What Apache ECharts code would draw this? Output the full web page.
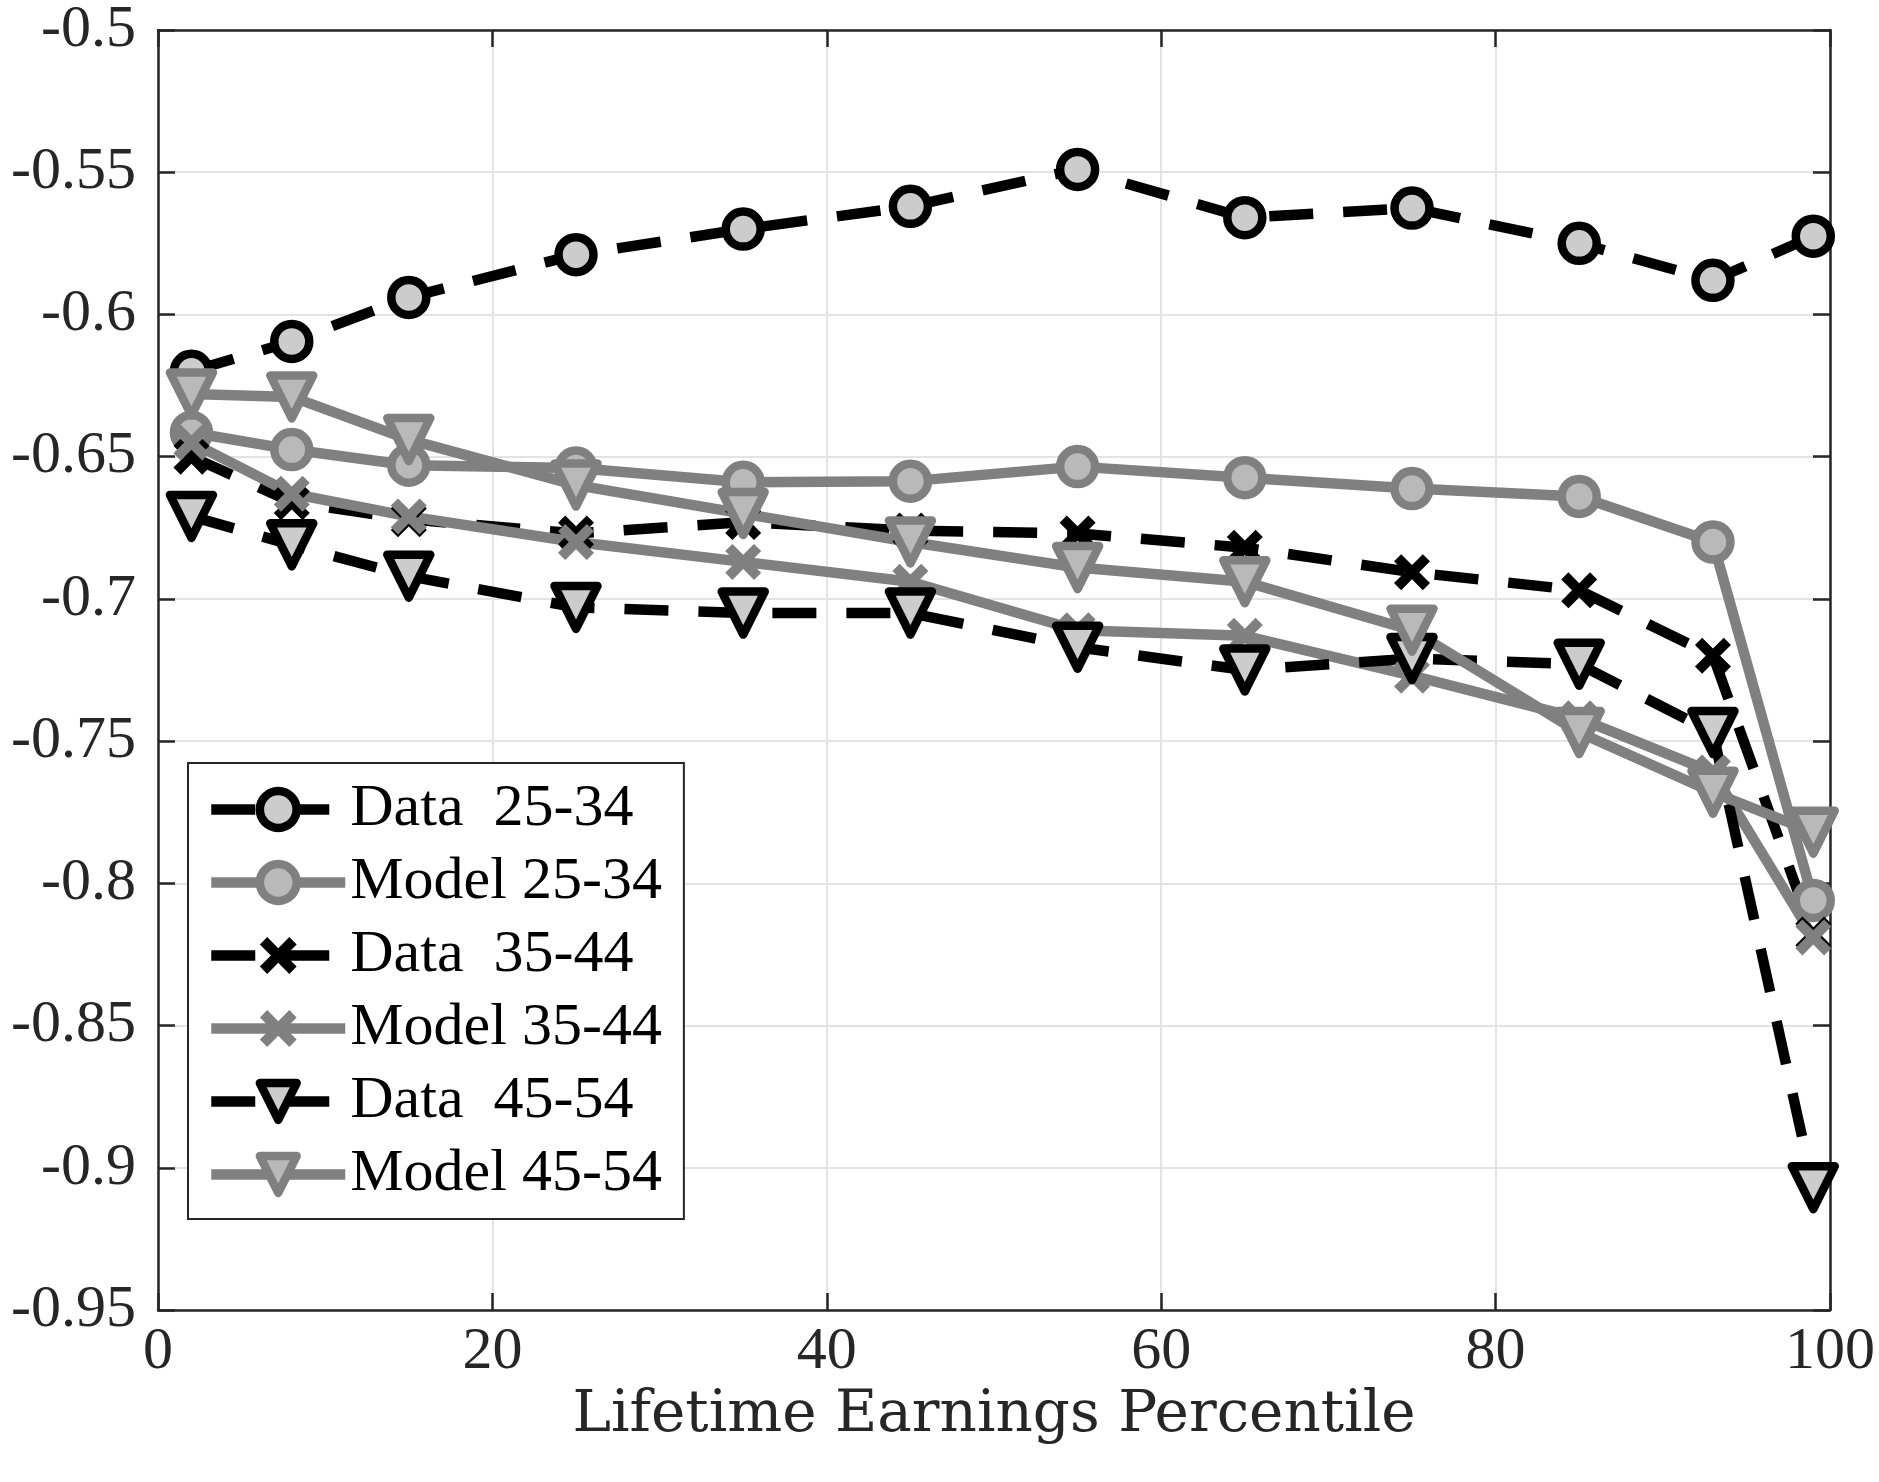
<!DOCTYPE html>
<html>
<head>
<meta charset="utf-8">
<script src="https://cdn.jsdelivr.net/npm/echarts@6/dist/echarts.min.js"></script>
<style>
html,body{margin:0;padding:0;background:#fff;}
#chart{width:1879px;height:1482px;}
</style>
</head>
<body>
<div id="chart"></div>
<script>
// ---- data ----
const percentiles = [2, 8, 15, 25, 35, 45, 55, 65, 75, 85, 93, 99];
const data2534  = [-0.620, -0.6095, -0.594, -0.579, -0.570, -0.562, -0.549, -0.566, -0.5626, -0.575, -0.588, -0.5725];
const model2534 = [-0.6415, -0.6475, -0.653, -0.654, -0.659, -0.6586, -0.6535, -0.6574, -0.6612, -0.664, -0.680, -0.806];
const data3544  = [-0.650, -0.666, -0.672, -0.677, -0.673, -0.676, -0.677, -0.682, -0.6906, -0.697, -0.720, -0.818];
const model3544 = [-0.645, -0.663, -0.671, -0.680, -0.687, -0.694, -0.711, -0.713, -0.727, -0.742, -0.761, -0.819];
const data4554  = [-0.671, -0.681, -0.692, -0.703, -0.705, -0.705, -0.717, -0.725, -0.721, -0.723, -0.747, -0.907];
const model4554 = [-0.628, -0.629, -0.644, -0.660, -0.670, -0.680, -0.689, -0.694, -0.711, -0.747, -0.768, -0.782];
const seriesNames = ['Data  25-34', 'Model 25-34', 'Data  35-44', 'Model 35-44', 'Data  45-54', 'Model 45-54'];
const xTitle = 'Lifetime Earnings Percentile';

const FONT = "'Liberation Serif', 'Times New Roman', Times, serif";
const TFONT = "'DejaVu Serif', serif";
const AX = '#262626';
const BLACK = '#000000', GRAY = '#808080';
const XPATH = 'path://M0,2 L2,0 L5,3 L8,0 L10,2 L7,5 L10,8 L8,10 L5,7 L2,10 L0,8 L3,5 Z';
const DASH = [44, 30];

function pts(ys){ return percentiles.map((x,i)=>[x, ys[i]]); }

function styleFor(isData, shape){
  const col = isData ? BLACK : GRAY;
  const fill = isData ? '#cccccc' : '#b9b9b9';
  const line = {color: col, width: 10.5, type: isData ? DASH : 'solid', cap: 'butt', join: 'round'};
  let symbol, size, rotate = 0, item;
  if (shape === 'circle') {
    symbol = 'circle'; size = 35;
    item = {color: fill, borderColor: col, borderWidth: 8.5};
  } else if (shape === 'x') {
    symbol = XPATH; size = 36;
    item = {color: col, borderColor: col, borderWidth: 0};
  } else {
    symbol = 'triangle'; rotate = 180; size = 43;
    item = {color: fill, borderColor: col, borderWidth: 8.5, borderJoin: 'round'};
  }
  return {line, symbol, size, rotate, item};
}

function mk(name, ys, isData, shape){
  const st = styleFor(isData, shape);
  return {
    name: name, type: 'line', data: pts(ys),
    xAxisIndex: 0, yAxisIndex: 0,
    lineStyle: st.line, symbol: st.symbol, symbolSize: st.size, symbolRotate: st.rotate,
    itemStyle: st.item,
    showAllSymbol: true, animation: false,
    emphasis: {disabled: true}
  };
}

const specs = [[true,'circle'],[false,'circle'],[true,'x'],[false,'x'],[true,'tri'],[false,'tri']];
const legendData = seriesNames.map((n,i)=>{
  const st = styleFor(specs[i][0], specs[i][1]);
  return {name: n, lineStyle: st.line, itemStyle: st.item};
});

const chart = echarts.init(document.getElementById('chart'), null, {renderer: 'canvas'});
chart.setOption({
  backgroundColor: '#ffffff',
  animation: false,
  grid: {left: 158, right: 49, top: 26, bottom: 172, containLabel: false},
  xAxis: [{
    type: 'value', min: 0, max: 100, interval: 20,
    name: xTitle, nameLocation: 'middle', nameGap: 56,
    nameTextStyle: {fontFamily: TFONT, fontSize: 58, color: AX},
    axisLine: {show: true, onZero: false, lineStyle: {color: AX, width: 2.5}},
    axisTick: {show: true, inside: true, length: 17, lineStyle: {color: AX, width: 2.5}},
    axisLabel: {fontFamily: FONT, fontSize: 60, color: AX, margin: 12},
    splitLine: {show: true, lineStyle: {color: '#e3e3e3', width: 2}}
  }, {
    type: 'value', min: 0, max: 100, interval: 20, position: 'top',
    axisLine: {show: true, onZero: false, lineStyle: {color: AX, width: 2.5}},
    axisTick: {show: true, inside: true, length: 17, lineStyle: {color: AX, width: 2.5}},
    axisLabel: {show: false}, splitLine: {show: false}
  }],
  yAxis: [{
    type: 'value', min: -0.95, max: -0.5, interval: 0.05,
    axisLine: {show: true, onZero: false, lineStyle: {color: AX, width: 2.5}},
    axisTick: {show: true, inside: true, length: 17, lineStyle: {color: AX, width: 2.5}},
    axisLabel: {fontFamily: FONT, fontSize: 60, color: AX, margin: 22,
      formatter: v => String(+v.toFixed(2))},
    splitLine: {show: true, lineStyle: {color: '#e3e3e3', width: 2}}
  }, {
    type: 'value', min: -0.95, max: -0.5, interval: 0.05, position: 'right',
    axisLine: {show: true, onZero: false, lineStyle: {color: AX, width: 2.5}},
    axisTick: {show: true, inside: true, length: 17, lineStyle: {color: AX, width: 2.5}},
    axisLabel: {show: false}, splitLine: {show: false}
  }],
  legend: {
    show: true, orient: 'vertical', left: 188, top: 763,
    backgroundColor: '#ffffff', borderColor: AX, borderWidth: 2,
    padding: [16, 22, 14, 18],
    itemWidth: 134, itemHeight: 46, itemGap: 12,
    textStyle: {fontFamily: FONT, fontSize: 60, color: '#000', lineHeight: 61},
    data: legendData, selectedMode: false, z: 10
  },
  series: [
    mk(seriesNames[0], data2534, true, 'circle'),
    mk(seriesNames[1], model2534, false, 'circle'),
    mk(seriesNames[2], data3544, true, 'x'),
    mk(seriesNames[3], model3544, false, 'x'),
    mk(seriesNames[4], data4554, true, 'tri'),
    mk(seriesNames[5], model4554, false, 'tri')
  ]
});
</script>
</body>
</html>
